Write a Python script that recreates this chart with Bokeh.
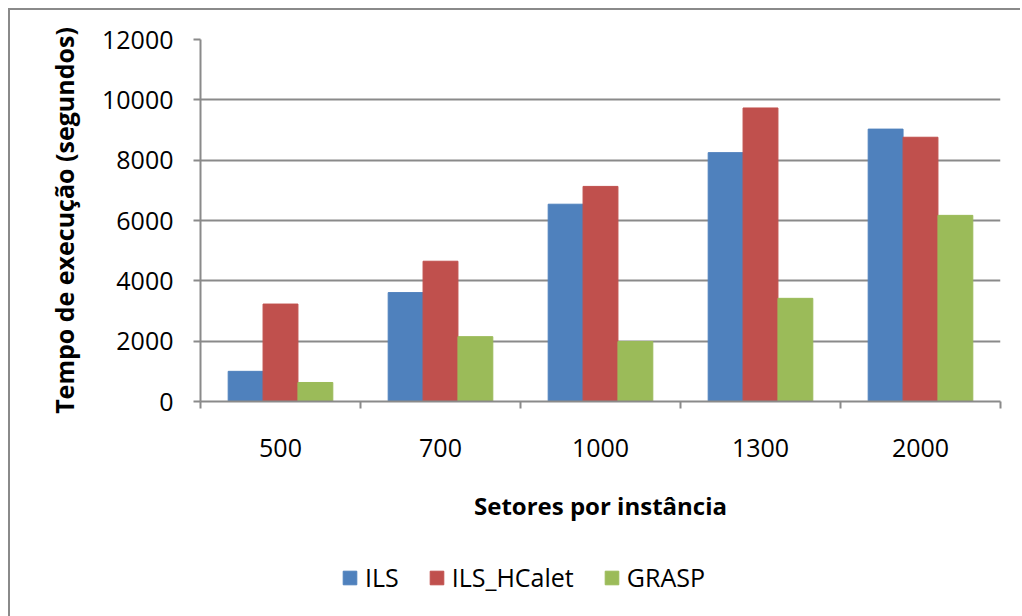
from bokeh.plotting import figure
from bokeh.layouts import column
from bokeh.models import ColumnDataSource, Range1d, FixedTicker, Legend, LegendItem
from bokeh.transform import dodge
from bokeh.embed import file_html
from bokeh.resources import INLINE

categories = ["500", "700", "1000", "1300", "2000"]
ils = [1000, 3610, 6540, 8250, 9030]
ils_hcalet = [3230, 4650, 7130, 9730, 8760]
grasp = [630, 2150, 1990, 3420, 6170]
series_names = ["ILS", "ILS_HCalet", "GRASP"]
colors = ["#4F81BD", "#C0504D", "#9BBB59"]
y_ticks = [0, 2000, 4000, 6000, 8000, 10000, 12000]

pos = [i + 0.5 for i in range(len(categories))]
src = ColumnDataSource(dict(pos=pos, cat=categories, ils=ils, hc=ils_hcalet, gr=grasp))

FONT = "Open Sans"
GRID = "#8a8a8a"

p = figure(width=1010, height=540, x_range=Range1d(0, len(categories)), y_range=Range1d(0, 12000),
           output_backend="svg", toolbar_location=None,
           min_border_left=190, min_border_top=29, min_border_right=20, min_border_bottom=149)
p.outline_line_color = None
p.background_fill_color = "white"
p.border_fill_color = "white"

w = 0.218
keys = ["ils", "hc", "gr"]
offsets = [-0.218, 0.0, 0.218]
for k, off, c in zip(keys, offsets, colors):
    p.vbar(x=dodge("pos", off, range=p.x_range), top=k, width=w, source=src,
           fill_color=c, line_color=c)

# x axis: labels at centres, tick marks at category boundaries
p.xaxis.ticker = FixedTicker(ticks=pos, minor_ticks=list(range(len(categories) + 1)))
p.xaxis.major_label_overrides = {pp: c for pp, c in zip(pos, categories)}
p.xaxis.major_tick_line_color = None
p.xaxis.major_tick_out = 0
p.xaxis.major_tick_in = 0
p.xaxis.minor_tick_line_color = GRID
p.xaxis.minor_tick_line_width = 2
p.xaxis.minor_tick_out = 7
p.xaxis.minor_tick_in = 0
p.xaxis.axis_line_color = GRID
p.xaxis.axis_line_width = 2
p.xaxis.major_label_text_font = FONT
p.xaxis.major_label_text_font_size = "25px"
p.xaxis.major_label_text_color = "black"
p.xaxis.major_label_standoff = 30
p.xaxis.axis_label = "Setores por instância"
p.xaxis.axis_label_text_font = FONT
p.xaxis.axis_label_text_font_style = "bold"
p.xaxis.axis_label_text_font_size = "24px"
p.xaxis.axis_label_text_color = "black"
p.xaxis.axis_label_standoff = 29

p.yaxis.ticker = FixedTicker(ticks=y_ticks)
p.yaxis.minor_tick_line_color = None
p.yaxis.major_tick_line_color = GRID
p.yaxis.major_tick_line_width = 2
p.yaxis.major_tick_out = 7
p.yaxis.major_tick_in = 0
p.yaxis.axis_line_color = GRID
p.yaxis.axis_line_width = 2
p.yaxis.major_label_text_font = FONT
p.yaxis.major_label_text_font_size = "25px"
p.yaxis.major_label_text_color = "black"
p.yaxis.major_label_standoff = 20
p.yaxis.axis_label = "Tempo de execução (segundos)"
p.yaxis.axis_label_text_font = FONT
p.yaxis.axis_label_text_font_style = "bold"
p.yaxis.axis_label_text_font_size = "25px"
p.yaxis.axis_label_text_color = "black"
p.yaxis.axis_label_standoff = 18

p.xgrid.grid_line_color = None
p.ygrid.grid_line_color = GRID
p.ygrid.grid_line_width = 2
p.ygrid.ticker = FixedTicker(ticks=y_ticks)

# legend strip below the chart (hidden proxy renderers supply the legend swatches)
lg = figure(width=1010, height=66, x_range=Range1d(100, 101), y_range=Range1d(-101, -100),
            output_backend="svg", toolbar_location=None,
            x_axis_location=None, y_axis_location=None,
            min_border_left=0, min_border_right=0, min_border_top=0, min_border_bottom=0)
lg.outline_line_color = None
lg.grid.grid_line_color = None
lg.border_fill_color = "white"
proxies = [lg.vbar(x="pos", top=k, width=w, source=src, fill_color=c, line_color=c, visible=False)
           for k, c in zip(keys, colors)]

legend = Legend(items=[LegendItem(label=n, renderers=[r]) for n, r in zip(series_names, proxies)],
                orientation="horizontal", location=(141, 22))
legend.label_text_font = FONT
legend.label_text_font_size = "25px"
legend.label_text_color = "black"
legend.glyph_width = 17
legend.glyph_height = 17
legend.label_standoff = 7
legend.spacing = 29
legend.padding = 0
legend.margin = 0
legend.border_line_color = None
legend.background_fill_alpha = 0
legend.inactive_fill_alpha = 0
lg.add_layout(legend, "center")

layout = column(p, lg, spacing=0)
layout.styles = {"border-left": "2px solid #8a8a8a", "border-top": "2px solid #8a8a8a",
                 "margin-left": "8px", "margin-top": "8px"}

open("out.html", "w").write(file_html(layout, INLINE))
